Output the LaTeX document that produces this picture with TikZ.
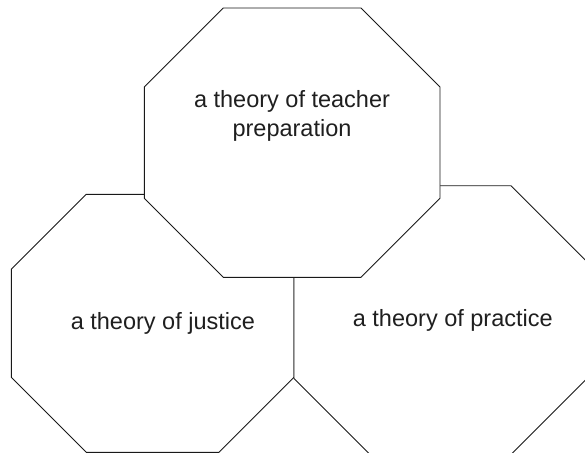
\documentclass[tikz,border=0pt]{standalone}
\usepackage{fontspec}
\setmainfont{Liberation Sans}
\usetikzlibrary{positioning}

% octagon from corner (x1,y1) to (x2,y2) with corner cut c
\newcommand{\octbox}[6]{%
  \draw[#1] ({#2+#6},#3) -- ({#4-#6},#3) -- (#4,{#3+#6}) -- (#4,{#5-#6})
    -- ({#4-#6},#5) -- ({#2+#6},#5) -- (#2,{#5-#6}) -- (#2,{#3+#6}) -- cycle;}

\begin{document}
\begin{tikzpicture}[x=1pt,y=-1pt,
  octa/.style={draw=black!90,line width=0.9pt,fill=white,line join=miter},
  label/.style={font=\fontsize{23.5}{28.3}\selectfont,text=black!88,align=center,anchor=base,inner sep=0pt}
]
\useasboundingbox (0,0) rectangle (585,452);

\octbox{octa}{11.3}{194.3}{294}{452.3}{75}
\octbox{octa}{294}{185.7}{587}{454.5}{76}
\octbox{octa}{144.3}{8}{440}{277.3}{79}

\node[label] (prep) at (292,136) {a theory of teacher\\preparation};
\node[label] (just) at (162.9,329.5) {a theory of justice};
\node[label] (prac) at (452.8,326.7) {a theory of practice};
\end{tikzpicture}
\end{document}
